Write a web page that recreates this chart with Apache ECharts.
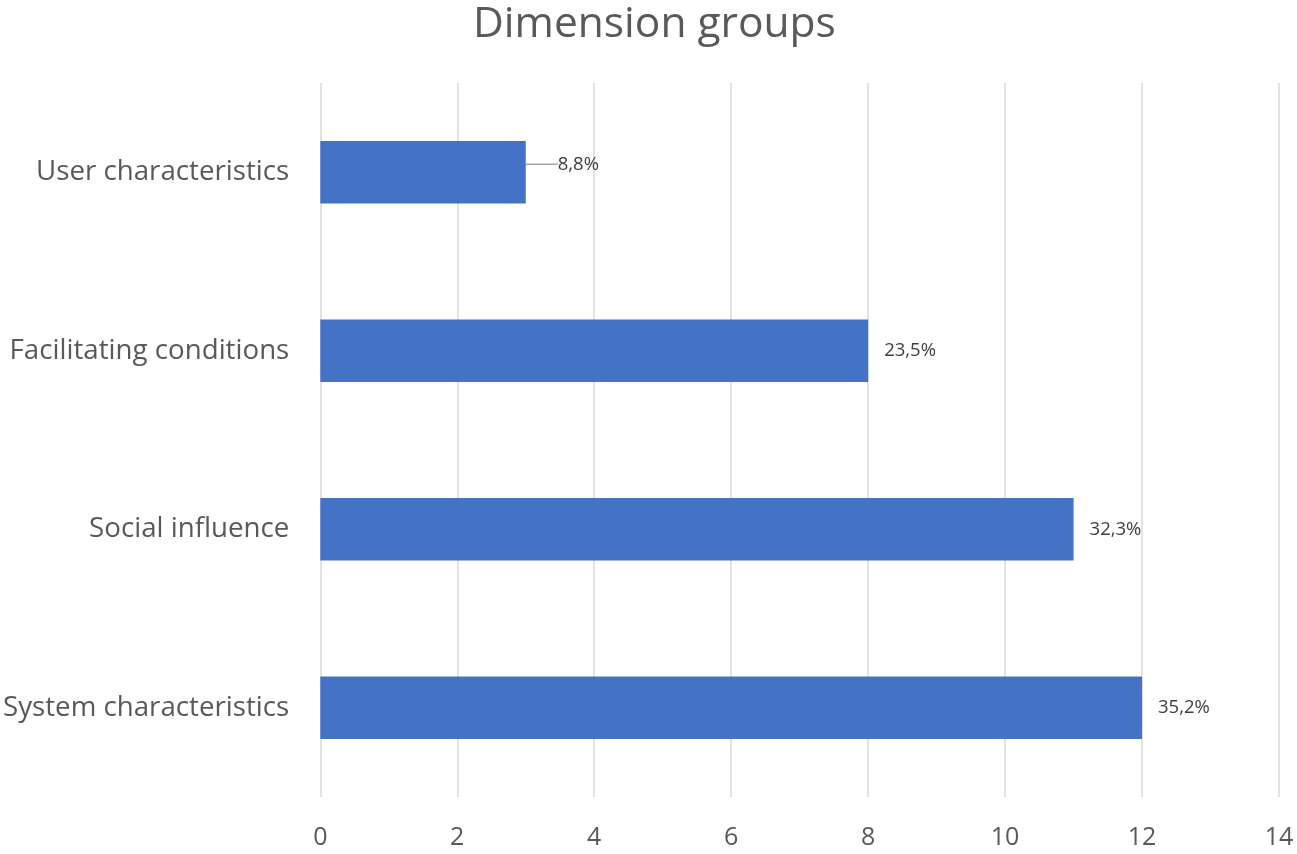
<!DOCTYPE html>
<html>
<head>
<meta charset="utf-8">
<script src="https://cdn.jsdelivr.net/npm/echarts@6/dist/echarts.min.js"></script>
<style>html,body{margin:0;padding:0;background:#fff;}#c{width:1297px;height:854px;}</style>
</head>
<body>
<div id="c"></div>
<script>
const categories = ['System characteristics', 'Social influence', 'Facilitating conditions', 'User characteristics'];
const values = [12, 11, 8, 3];
const percentLabels = ['35,2%', '32,3%', '23,5%', '8,8%'];
const xTicks = { min: 0, max: 14, interval: 2 };
const movedLabelIndex = 3;

const chart = echarts.init(document.getElementById('c'));
chart.setOption({
  animation: false,
  backgroundColor: '#ffffff',
  title: {
    text: 'Dimension groups',
    left: 468,
    top: -2,
    textStyle: { fontFamily: 'Open Sans', fontWeight: 'normal', fontSize: 42.5, color: '#595959' }
  },
  grid: { left: 319, right: 18, top: 83, bottom: 57, containLabel: false },
  xAxis: {
    type: 'value',
    min: xTicks.min, max: xTicks.max, interval: xTicks.interval,
    axisLine: { show: false },
    axisTick: { show: false },
    splitLine: { show: true, lineStyle: { color: '#d9d9d9', width: 1.5 } },
    axisLabel: { fontFamily: 'Open Sans', fontSize: 25, color: '#595959', margin: 28 }
  },
  yAxis: {
    type: 'category',
    data: categories,
    axisLine: { show: false },
    axisTick: { show: false },
    axisLabel: { fontFamily: 'Open Sans', fontSize: 27.7, color: '#595959', margin: 31 }
  },
  series: [{
    type: 'bar',
    data: values.map((v, i) => ({
      value: v,
      labelLine: { show: i === movedLabelIndex }
    })),
    barWidth: '35%',
    itemStyle: { color: '#4472C4' },
    label: {
      show: true,
      position: 'right',
      distance: 16,
      fontFamily: 'Open Sans',
      fontSize: 18.5,
      color: '#404040',
      formatter: p => percentLabels[p.dataIndex]
    },
    labelLine: { show: false, lineStyle: { color: '#a6a6a6', width: 1.5 } },
    labelLayout: function (params) {
      if (params.dataIndex === movedLabelIndex) {
        return { dx: 16, dy: -8 };
      }
      return {};
    }
  }]
});
</script>
</body>
</html>
